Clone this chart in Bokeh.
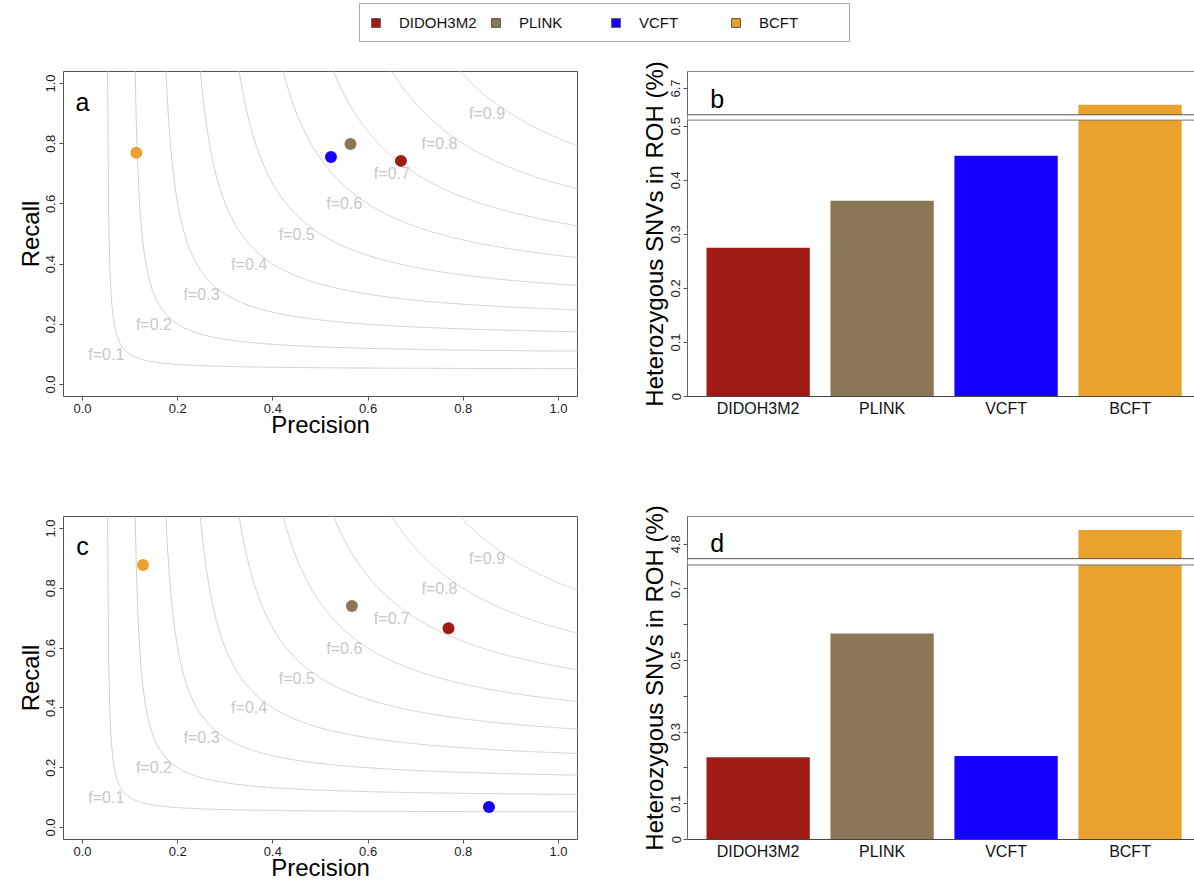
import numpy as np
from bokeh.plotting import figure
from bokeh.models import (Range1d, FixedTicker, PrintfTickFormatter, CustomJSTickFormatter,
                          Legend, LegendItem, BoxAnnotation, Span, LinearAxis,
                          ColumnDataSource, Label)
from bokeh.layouts import column, row
from bokeh.embed import file_html
from bokeh.resources import INLINE
from bokeh.core.properties import value

# ---------------- data ----------------
categories = ["DIDOH3M2", "PLINK", "VCFT", "BCFT"]
colors = ["#9E1B16", "#8B7757", "#1400FF", "#E9A22D"]

# panel a (precision / recall)
a_precision = [0.669, 0.563, 0.522, 0.113]
a_recall = [0.743, 0.799, 0.756, 0.770]
# panel c (precision / recall)
c_precision = [0.769, 0.566, 0.854, 0.127]
c_recall = [0.666, 0.741, 0.069, 0.878]

f_levels = [0.1, 0.2, 0.3, 0.4, 0.5, 0.6, 0.7, 0.8, 0.9]
f_labels = ["f=0.1", "f=0.2", "f=0.3", "f=0.4", "f=0.5", "f=0.6", "f=0.7", "f=0.8", "f=0.9"]
pr_ticks = [0.0, 0.2, 0.4, 0.6, 0.8, 1.0]

# panel b (heterozygous SNVs in ROH, %), broken axis
b_values = [0.275, 0.362, 0.445, 6.67]
b_ticks = [0, 0.1, 0.2, 0.3, 0.4, 0.5, 6.7]
b_tick_labels = ["0", "0.1", "0.2", "0.3", "0.4", "0.5", "6.7"]
b_gap = (0.5111, 0.5210)
b_gap_shift = 6.1305
b_ymax = 0.601

# panel d (heterozygous SNVs in ROH, %), broken axis
d_values = [0.230, 0.575, 0.233, 4.84]
d_ticks = [0, 0.1, 0.2, 0.3, 0.4, 0.5, 0.6, 0.7, 4.8]
d_tick_labels = ["0", "0.1", "", "0.3", "", "0.5", "", "0.7", "4.8"]
d_gap = (0.7667, 0.7843)
d_gap_shift = 3.9757
d_ymax = 0.902

FONT = "Liberation Sans"
W = 1194
HALF = 597
LEG_H = 45
TOP_H = 445
BOT_H = 393


def style_axis(ax, label_size="13px"):
    ax.axis_line_color = None
    ax.major_tick_line_color = "#555555"
    ax.major_tick_out = 4
    ax.major_tick_in = 0
    ax.minor_tick_line_color = None
    ax.major_label_text_font = FONT
    ax.major_label_text_font_size = label_size
    ax.major_label_text_color = "#222222"
    ax.axis_label_text_font = FONT
    ax.axis_label_text_font_size = "24px"
    ax.axis_label_text_font_style = "normal"
    ax.axis_label_text_color = "#000000"


def f_panel(h, bottom_border, prec, rec, letter):
    p = figure(width=HALF, height=h, output_backend="svg", toolbar_location=None,
               x_range=Range1d(-0.04, 1.04), y_range=Range1d(-0.04, 1.04),
               min_border_left=63, min_border_right=20, min_border_top=26,
               min_border_bottom=bottom_border)
    p.grid.visible = False
    p.outline_line_color = "#555555"
    p.outline_line_width = 1
    for f in f_levels:
        p0 = f * 1.06 / (2 * 1.06 - f)
        P = np.linspace(p0, 1.06, 400)
        R = f * P / (2 * P - f)
        p.line(P, R, line_color="#D0D0D0", line_width=1)
    src = ColumnDataSource(dict(x=[f - 0.05 for f in f_levels], y=f_levels, t=f_labels))
    p.text(x="x", y="y", text="t", source=src, text_font=value(FONT), text_font_size="16px",
           text_color="#C8C8C8", text_align="center", text_baseline="middle")
    p.scatter(prec, rec, size=12, fill_color=colors, line_color=None)
    p.add_layout(Label(x=0.0, y=0.94, text=letter, text_font=FONT, text_font_size="25px",
                       text_align="center", text_baseline="middle", text_color="#000000"))
    style_axis(p.xaxis[0])
    style_axis(p.yaxis[0])
    p.xaxis.ticker = FixedTicker(ticks=pr_ticks)
    p.yaxis.ticker = FixedTicker(ticks=pr_ticks)
    p.xaxis.formatter = PrintfTickFormatter(format="%.1f")
    p.yaxis.formatter = PrintfTickFormatter(format="%.1f")
    p.yaxis.major_label_orientation = "vertical"
    p.xaxis.axis_label = "Precision"
    p.yaxis.axis_label = "Recall"
    p.xaxis.major_label_standoff = 3
    p.yaxis.major_label_standoff = 4
    p.xaxis.axis_label_standoff = -5
    p.yaxis.axis_label_standoff = 0
    return p


JS_MAP = """
let best = -1, bd = 1e9;
for (let i = 0; i < pos.length; i++) {
  const d = Math.abs(pos[i] - tick);
  if (d < bd) { bd = d; best = i; }
}
return (bd < 1e-6) ? labels[best] : "";
"""


def bar_panel(h, bottom_border, vals, ticks, tick_labels, gap, shift, ymax, letter, letter_y):
    p = figure(width=HALF, height=h, output_backend="svg", toolbar_location=None,
               x_range=Range1d(0.016, 4.924), y_range=Range1d(0, ymax),
               min_border_left=90, min_border_right=0, min_border_top=26,
               min_border_bottom=bottom_border)
    p.grid.visible = False
    p.outline_line_color = None
    disp = [v if v < gap[0] else v - shift for v in vals]
    lefts = [0.2 + 1.2 * i for i in range(len(categories))]
    rights = [l + 1.0 for l in lefts]
    centers = [l + 0.5 for l in lefts]
    p.quad(left=lefts, right=rights, bottom=0, top=disp, fill_color=colors, line_color=None)
    # axis break
    p.add_layout(BoxAnnotation(bottom=gap[0], top=gap[1], fill_color="white", fill_alpha=1.0,
                               line_color=None))
    p.add_layout(Span(location=gap[0], dimension="width", line_color="#777777", line_width=1))
    p.add_layout(Span(location=gap[1], dimension="width", line_color="#555555", line_width=1))
    disp_ticks = [t if t < gap[0] else t - shift for t in ticks]
    style_axis(p.yaxis[0])
    style_axis(p.xaxis[0], label_size="16px")
    p.yaxis.axis_line_color = "#666666"
    p.xaxis.axis_line_color = "#444444"
    p.yaxis.ticker = FixedTicker(ticks=disp_ticks)
    p.yaxis.formatter = CustomJSTickFormatter(args=dict(pos=disp_ticks, labels=tick_labels),
                                              code=JS_MAP)
    p.yaxis.major_label_orientation = "vertical"
    p.yaxis.major_label_standoff = 3
    p.yaxis.axis_label = "Heterozygous SNVs in ROH (%)"
    p.yaxis.axis_label_standoff = 1
    p.xaxis.ticker = FixedTicker(ticks=centers)
    p.xaxis.formatter = CustomJSTickFormatter(args=dict(pos=centers, labels=categories),
                                              code=JS_MAP)
    p.xaxis.major_tick_line_color = None
    p.xaxis.major_tick_out = 0
    p.xaxis.major_label_standoff = 3
    p.xaxis.major_label_text_color = "#111111"
    top_axis = LinearAxis(ticker=FixedTicker(ticks=[]), axis_line_color="#888888",
                          major_tick_out=0, major_tick_in=0, major_tick_line_color=None,
                          minor_tick_line_color=None, major_label_text_font_size="0px")
    p.add_layout(top_axis, "above")
    p.add_layout(Label(x=0.304, y=letter_y, text=letter, text_font=FONT, text_font_size="25px",
                       text_align="center", text_baseline="middle", text_color="#000000"))
    return p


# ---------------- legend strip ----------------
leg = figure(width=W, height=LEG_H, output_backend="svg", toolbar_location=None,
             x_range=Range1d(0, 1), y_range=Range1d(0, 1), min_border=0,
             x_axis_location=None, y_axis_location=None)
leg.grid.visible = False
leg.outline_line_color = None
items = []
for cat, col in zip(categories, colors):
    # one swatch renderer per method, kept outside the visible range of the strip
    r = leg.quad(left=[2.0], right=[3.0], top=[3.0], bottom=[2.0], fill_color=col,
                 line_color="#555555")
    items.append(LegendItem(label=cat, renderers=[r]))
legend = Legend(items=items, orientation="horizontal", location=(359, 3),
                label_text_font=FONT, label_text_font_size="15px", label_text_color="#111111",
                glyph_width=11, glyph_height=11, label_standoff=18, label_width=80,
                spacing=11, padding=10, margin=0, border_line_color="#555555",
                border_line_width=1, background_fill_color="white", background_fill_alpha=1.0)
leg.add_layout(legend)

pa = f_panel(TOP_H, 94, a_precision, a_recall, "a")
pc = f_panel(BOT_H, 42, c_precision, c_recall, "c")
pb = bar_panel(TOP_H, 94, b_values, b_ticks, b_tick_labels, b_gap, b_gap_shift, b_ymax, "b", 0.55)
pd = bar_panel(BOT_H, 42, d_values, d_ticks, d_tick_labels, d_gap, d_gap_shift, d_ymax, "d", 0.827)

layout = column(leg, row(pa, pb), row(pc, pd))
open("out.html", "w").write(file_html(layout, INLINE))
